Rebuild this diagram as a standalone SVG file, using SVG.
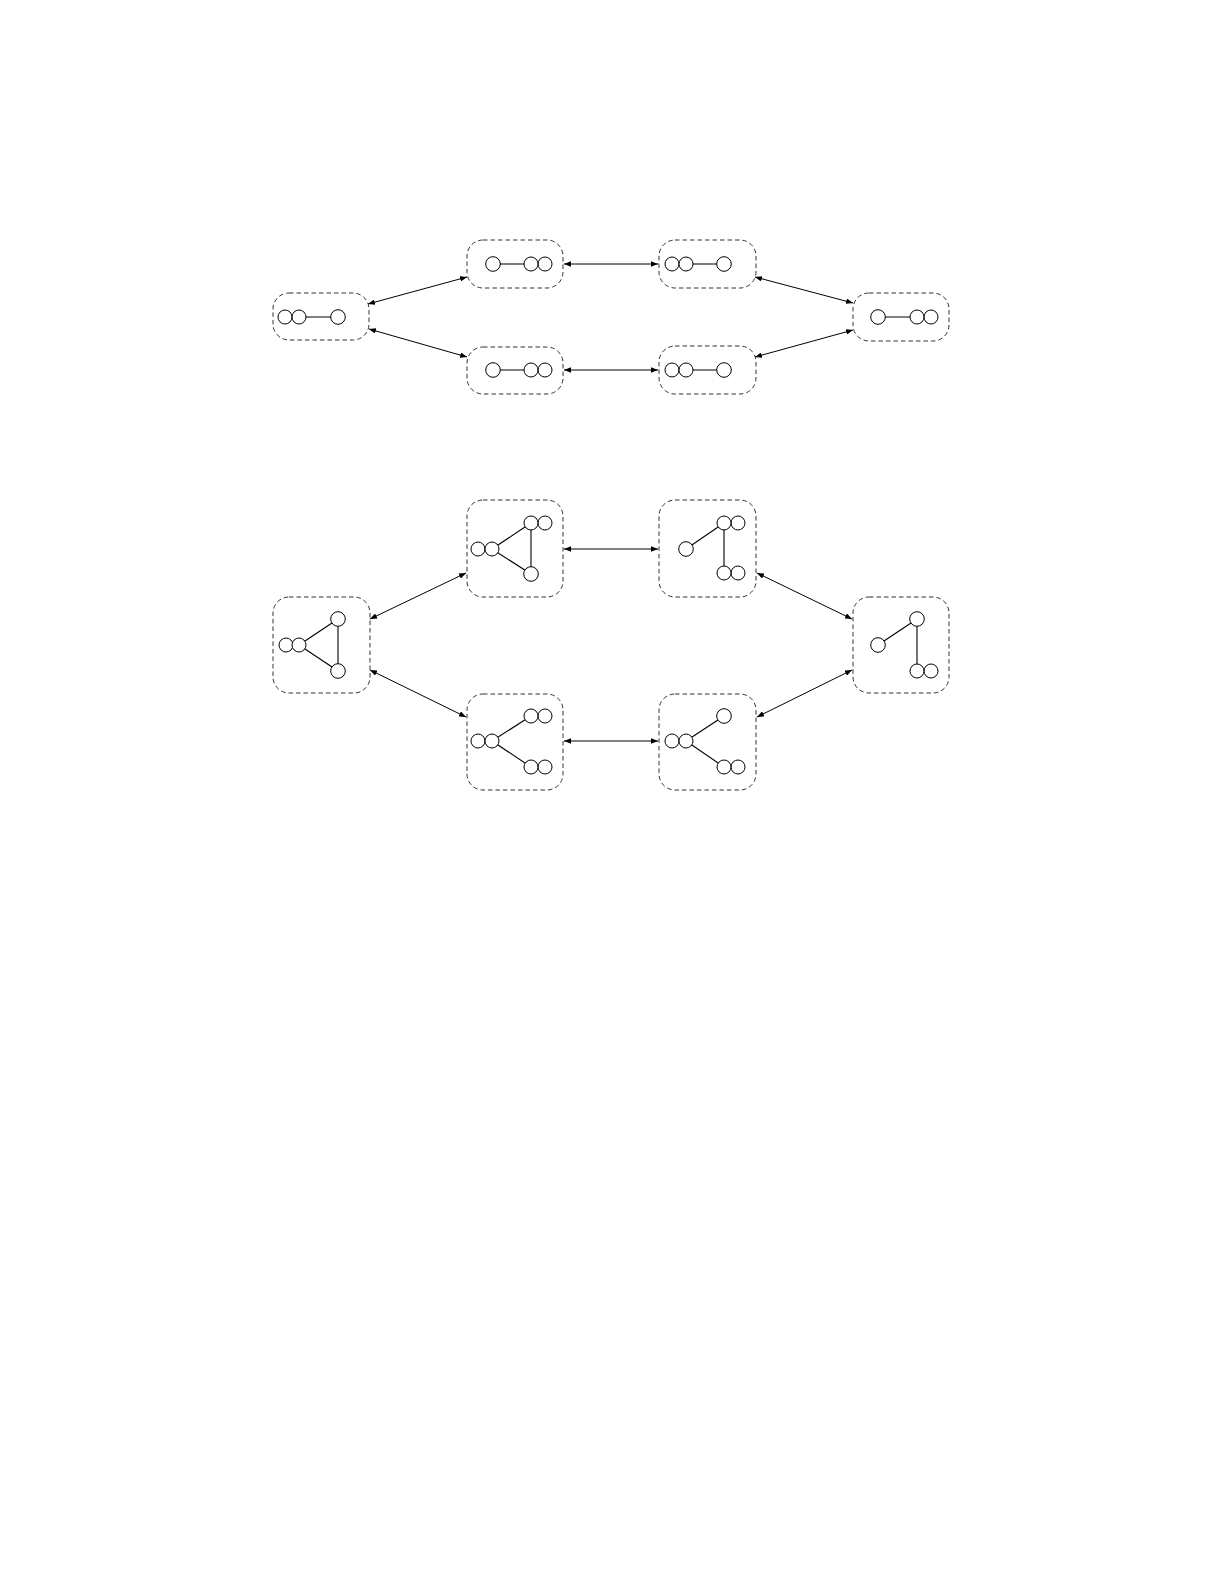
<svg xmlns="http://www.w3.org/2000/svg" width="1225" height="1585" viewBox="0 0 1225 1585">
<defs>
<style>
.box{fill:none;stroke:#333;stroke-width:1;stroke-dasharray:4.5,3}
.c{fill:#fff;stroke:#000;stroke-width:1}
.e{stroke:#000;stroke-width:1.1;fill:none}
.a{stroke:#000;stroke-width:1;fill:none;marker-start:url(#ah);marker-end:url(#ah)}
</style>
<marker id="ah" viewBox="0 0 10 8" refX="10" refY="4" markerWidth="7" markerHeight="5.6" markerUnits="userSpaceOnUse" orient="auto-start-reverse">
<path d="M0,0 L10,4 L0,8 Z" fill="#000"/>
</marker>
</defs>
<rect width="1225" height="1585" fill="#fff"/>

<g id="connectors">
<line class="a" x1="368" y1="304" x2="467" y2="277"/>
<line class="a" x1="369" y1="329" x2="467" y2="357"/>
<line class="a" x1="564" y1="264" x2="658" y2="264"/>
<line class="a" x1="564" y1="370" x2="658" y2="370"/>
<line class="a" x1="755" y1="277" x2="853" y2="303"/>
<line class="a" x1="755" y1="357" x2="853" y2="330"/>
<line class="a" x1="370" y1="619" x2="466" y2="573"/>
<line class="a" x1="370" y1="670" x2="466" y2="717"/>
<line class="a" x1="564" y1="549" x2="658" y2="549"/>
<line class="a" x1="564" y1="741" x2="658" y2="741"/>
<line class="a" x1="757" y1="573" x2="852" y2="619"/>
<line class="a" x1="757" y1="717" x2="852" y2="670"/>
</g>

<g id="nA">
<rect class="box" x="273" y="293" width="96" height="47" rx="16"/>
<line class="e" x1="299" y1="317" x2="338" y2="317"/>
<circle class="c" cx="285" cy="317" r="7"/>
<circle class="c" cx="299" cy="317" r="7"/>
<circle class="c" cx="338" cy="317" r="7.3"/>
</g>
<g id="nB">
<rect class="box" x="467" y="240" width="96" height="48" rx="16"/>
<line class="e" x1="493" y1="264" x2="531" y2="264"/>
<circle class="c" cx="493" cy="264" r="7.3"/>
<circle class="c" cx="545" cy="264" r="7"/>
<circle class="c" cx="531" cy="264" r="7"/>
</g>
<g id="nC">
<rect class="box" x="467" y="347" width="96" height="47" rx="16"/>
<line class="e" x1="493" y1="370" x2="531" y2="370"/>
<circle class="c" cx="493" cy="370" r="7.3"/>
<circle class="c" cx="545" cy="370" r="7"/>
<circle class="c" cx="531" cy="370" r="7"/>
</g>
<g id="nD">
<rect class="box" x="659" y="240" width="97" height="48" rx="16"/>
<line class="e" x1="686" y1="264" x2="724" y2="264"/>
<circle class="c" cx="672" cy="264" r="7"/>
<circle class="c" cx="686" cy="264" r="7"/>
<circle class="c" cx="724" cy="264" r="7.3"/>
</g>
<g id="nE">
<rect class="box" x="659" y="346" width="97" height="48" rx="16"/>
<line class="e" x1="686" y1="370" x2="724" y2="370"/>
<circle class="c" cx="672" cy="370" r="7"/>
<circle class="c" cx="686" cy="370" r="7"/>
<circle class="c" cx="724" cy="370" r="7.3"/>
</g>
<g id="nF">
<rect class="box" x="853" y="293" width="96" height="48" rx="16"/>
<line class="e" x1="878" y1="317" x2="917" y2="317"/>
<circle class="c" cx="878" cy="317" r="7.3"/>
<circle class="c" cx="931" cy="317" r="7"/>
<circle class="c" cx="917" cy="317" r="7"/>
</g>

<g id="nG">
<rect class="box" x="273" y="597" width="97" height="96" rx="16"/>
<line class="e" x1="299" y1="645" x2="338" y2="619"/>
<line class="e" x1="299" y1="645" x2="338" y2="671"/>
<line class="e" x1="338" y1="619" x2="338" y2="671"/>
<circle class="c" cx="286" cy="645" r="7"/>
<circle class="c" cx="299" cy="645" r="7"/>
<circle class="c" cx="338" cy="619" r="7.3"/>
<circle class="c" cx="338" cy="671" r="7.3"/>
</g>
<g id="nH">
<rect class="box" x="467" y="500" width="96" height="97" rx="16"/>
<line class="e" x1="492" y1="549" x2="531" y2="523"/>
<line class="e" x1="492" y1="549" x2="531" y2="574"/>
<line class="e" x1="531" y1="523" x2="531" y2="574"/>
<circle class="c" cx="478" cy="549" r="7"/>
<circle class="c" cx="492" cy="549" r="7"/>
<circle class="c" cx="545" cy="523" r="7"/>
<circle class="c" cx="531" cy="523" r="7"/>
<circle class="c" cx="531" cy="574" r="7.3"/>
</g>
<g id="nI">
<rect class="box" x="467" y="694" width="96" height="96" rx="16"/>
<line class="e" x1="492" y1="741" x2="531" y2="716"/>
<line class="e" x1="492" y1="741" x2="531" y2="767"/>
<circle class="c" cx="478" cy="741" r="7"/>
<circle class="c" cx="492" cy="741" r="7"/>
<circle class="c" cx="545" cy="716" r="7"/>
<circle class="c" cx="531" cy="716" r="7"/>
<circle class="c" cx="545" cy="767" r="7"/>
<circle class="c" cx="531" cy="767" r="7"/>
</g>
<g id="nJ">
<rect class="box" x="659" y="500" width="97" height="97" rx="16"/>
<line class="e" x1="686" y1="549" x2="724" y2="523"/>
<line class="e" x1="724" y1="523" x2="724" y2="573"/>
<circle class="c" cx="686" cy="549" r="7.3"/>
<circle class="c" cx="738" cy="523" r="7"/>
<circle class="c" cx="724" cy="523" r="7"/>
<circle class="c" cx="738" cy="573" r="7"/>
<circle class="c" cx="724" cy="573" r="7"/>
</g>
<g id="nK">
<rect class="box" x="659" y="694" width="97" height="96" rx="16"/>
<line class="e" x1="686" y1="741" x2="724" y2="716"/>
<line class="e" x1="686" y1="741" x2="724" y2="767"/>
<circle class="c" cx="672" cy="741" r="7"/>
<circle class="c" cx="686" cy="741" r="7"/>
<circle class="c" cx="724" cy="716" r="7.3"/>
<circle class="c" cx="738" cy="767" r="7"/>
<circle class="c" cx="724" cy="767" r="7"/>
</g>
<g id="nL">
<rect class="box" x="853" y="597" width="96" height="96" rx="16"/>
<line class="e" x1="878" y1="645" x2="917" y2="619"/>
<line class="e" x1="917" y1="619" x2="917" y2="671"/>
<circle class="c" cx="878" cy="645" r="7.3"/>
<circle class="c" cx="917" cy="619" r="7.3"/>
<circle class="c" cx="931" cy="671" r="7"/>
<circle class="c" cx="917" cy="671" r="7"/>
</g>
</svg>
